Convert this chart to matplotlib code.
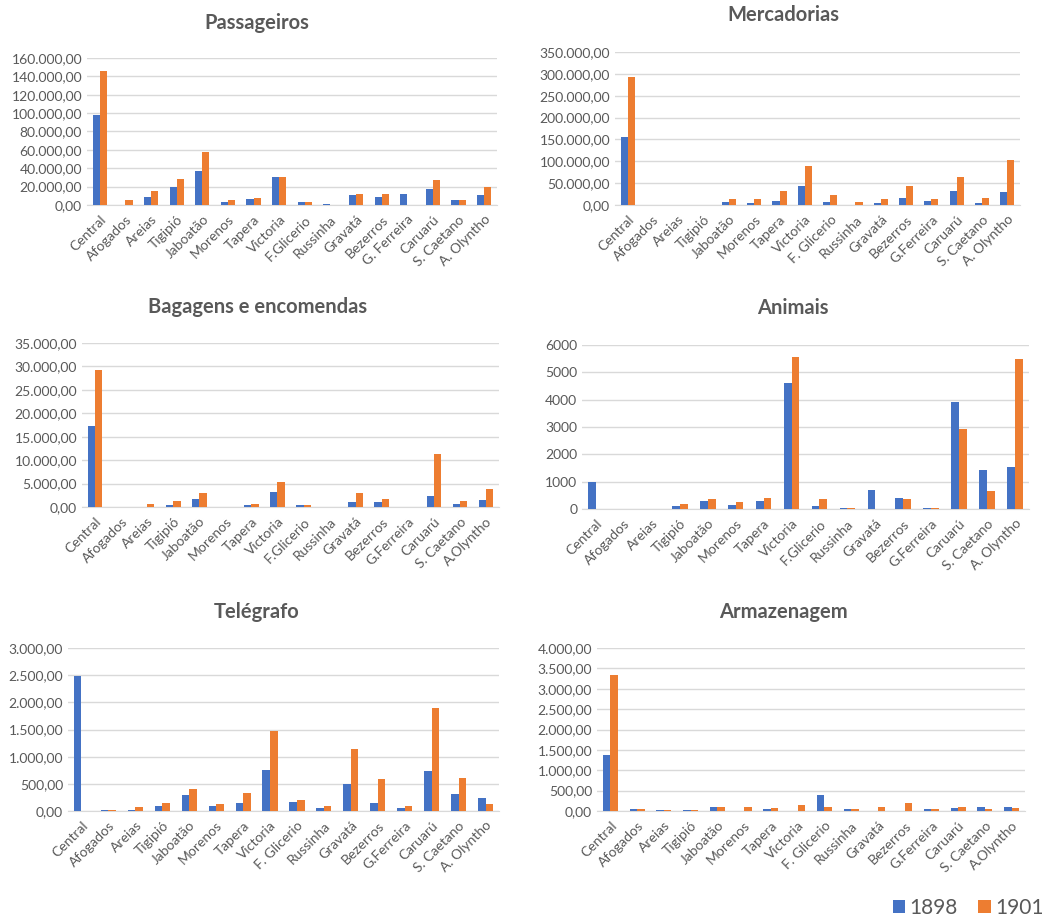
import matplotlib.pyplot as plt
import numpy as np
from matplotlib.ticker import FuncFormatter

plt.rcParams['font.family'] = ['Lato', 'DejaVu Sans']

blue = '#4472C4'
orange = '#ED7D31'
grey = '#595959'

# station names as written under each chart
base = ["Central", "Afogados", "Areias", "Tigipió", "Jaboatão", "Morenos", "Tapera", "Victoria"]

labels_pass = base + ["F.Glicerio", "Russinha", "Gravatá", "Bezerros", "G. Ferreira", "Caruarú", "S. Caetano", "A. Olyntho"]
labels_merc = base + ["F. Glicerio", "Russinha", "Gravatá", "Bezerros", "G.Ferreira", "Caruarú", "S. Caetano", "A. Olyntho"]
labels_bag = base + ["F.Glicerio", "Russinha", "Gravatá", "Bezerros", "G.Ferreira", "Caruarú", "S. Caetano", "A.Olyntho"]
labels_anim = base + ["F.Glicerio", "Russinha", "Gravatá", "Bezerros", "G.Ferreira", "Caruarú", "S. Caetano", "A. Olyntho"]
labels_tel = base + ["F. Glicerio", "Russinha", "Gravatá", "Bezerros", "G.Ferreira", "Caruarú", "S. Caetano", "A. Olyntho"]
labels_arm = base + ["F. Glicerio", "Russinha", "Gravatá", "Bezerros", "G.Ferreira", "Caruarú", "S. Caetano", "A.Olyntho"]

pass_1898 = [98000, 0, 9000, 19500, 37500, 3000, 6500, 31000, 3000, 1500, 10500, 9000, 12000, 17500, 5000, 10500]
pass_1901 = [146000, 5000, 15000, 28000, 57500, 5000, 7500, 31000, 3000, 0, 12000, 12000, 0, 27000, 5000, 19500]

merc_1898 = [155000, 0, 0, 0, 6000, 4000, 10000, 44000, 6000, 0, 4000, 16000, 10000, 32000, 4000, 29000]
merc_1901 = [292000, 0, 0, 0, 14000, 14000, 32000, 90000, 23000, 7000, 14000, 44000, 14000, 65000, 17000, 102000]

bag_1898 = [17200, 0, 0, 400, 1800, 0, 400, 3300, 400, 0, 1000, 1000, 0, 2400, 700, 1500]
bag_1901 = [29200, 0, 700, 1300, 3000, 0, 700, 5400, 400, 0, 3000, 1800, 0, 11300, 1300, 3900]

anim_1898 = [980, 0, 0, 100, 300, 150, 300, 4600, 100, 50, 700, 400, 50, 3900, 1430, 1530]
anim_1901 = [0, 0, 0, 200, 350, 250, 400, 5550, 350, 50, 0, 350, 50, 2920, 650, 5500]

tel_1898 = [2490, 20, 20, 100, 290, 100, 140, 760, 170, 50, 490, 140, 50, 740, 320, 240]
tel_1901 = [0, 20, 70, 140, 410, 120, 340, 1480, 200, 100, 1150, 590, 100, 1900, 610, 120]

arm_1898 = [1380, 40, 30, 30, 100, 0, 40, 0, 400, 40, 0, 0, 40, 70, 100, 100]
arm_1901 = [3330, 40, 30, 30, 100, 100, 70, 140, 100, 40, 100, 200, 40, 100, 40, 70]


def br(v, pos):
    s = f"{v:,.2f}"
    return s.replace(",", "X").replace(".", ",").replace("X", ".")


def plain(v, pos):
    return f"{v:.0f}"


W, H = 1049, 922
fig = plt.figure(figsize=(W / 100, H / 100), dpi=100)

# title, labels, data, y max, y step, formatter, (x0, x1, ytop, ybottom) in pixels, title x/y
panels = [
    ("Passageiros", labels_pass, pass_1898, pass_1901, 160000, 20000, br, (87, 497, 58, 205), (257, 23)),
    ("Mercadorias", labels_merc, merc_1898, merc_1901, 350000, 50000, br, (615, 1020, 52, 205), (783, 15)),
    ("Bagagens e encomendas", labels_bag, bag_1898, bag_1901, 35000, 5000, br, (82, 499, 343, 507), (258, 307)),
    ("Animais", labels_anim, anim_1898, anim_1901, 6000, 1000, plain, (582, 1029, 345, 509), (793, 308)),
    ("Telégrafo", labels_tel, tel_1898, tel_1901, 3000, 500, br, (68, 499, 648, 811), (257, 612)),
    ("Armazenagem", labels_arm, arm_1898, arm_1901, 4000, 500, br, (597, 1025, 648, 811), (783, 612)),
]

for title, labs, a, b, ymax, step, fmt, (x0, x1, yt, yb), (tx, ty) in panels:
    ax = fig.add_axes([x0 / W, 1 - yb / H, (x1 - x0) / W, (yb - yt) / H])
    x = np.arange(len(labs))
    w = 0.28
    ax.bar(x - w / 2, a, w, color=blue, label="1898", zorder=3)
    ax.bar(x + w / 2, b, w, color=orange, label="1901", zorder=3)
    ax.set_xlim(-0.5, len(labs) - 0.5)
    ax.set_ylim(0, ymax)
    ax.set_yticks(np.arange(0, ymax + step / 2, step))
    ax.yaxis.set_major_formatter(FuncFormatter(fmt))
    ax.set_xticks(x)
    ax.set_xticklabels(labs, rotation=45, ha='right', rotation_mode='anchor')
    ax.tick_params(axis='both', length=0, labelsize=10, labelcolor=grey)
    ax.tick_params(axis='x', pad=6)
    ax.grid(axis='y', color='#D9D9D9', linewidth=1, zorder=0)
    for s in ['top', 'right', 'left']:
        ax.spines[s].set_visible(False)
    ax.spines['bottom'].set_color('#D9D9D9')
    fig.text(tx / W, 1 - ty / H, title, ha='center', va='center',
             fontsize=14.5, fontweight='bold', color=grey)
    if title == "Armazenagem":
        handles, names = ax.get_legend_handles_labels()

fig.legend(handles, names, loc='center', bbox_to_anchor=(968 / W, 1 - 908 / H), ncol=2,
           frameon=False, fontsize=15, handlelength=0.6, handleheight=0.6,
           handletextpad=0.2, columnspacing=1.0, labelcolor=grey)

fig.savefig("out.png", dpi=100)
